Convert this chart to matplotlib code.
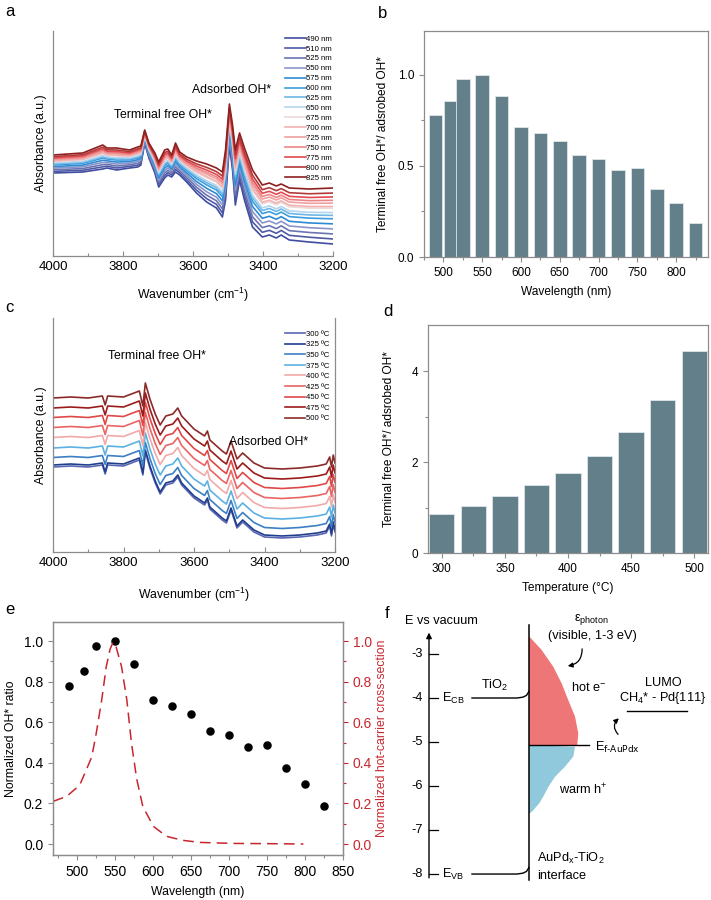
import numpy as np
import matplotlib.pyplot as plt
from matplotlib.patches import Polygon

plt.rcParams['font.family'] = ['Liberation Sans', 'DejaVu Sans']
plt.rcParams['mathtext.default'] = 'regular'

SPINE = '#8c8c8c'
BAR = '#627f8a'
RED = '#c8262e'

# ---- a: DRIFTS under different excitation wavelengths (lowest / highest trace)
wn_a = [4000, 3915, 3858, 3846, 3818, 3800, 3781, 3758, 3749, 3738, 3726, 3709, 3698,
        3681, 3672, 3661, 3650, 3638, 3618, 3590, 3561, 3533, 3516, 3507, 3496, 3487,
        3479, 3467, 3453, 3430, 3402, 3382, 3362, 3348, 3325, 3268, 3200]
abs_a_low = [0.83, 0.84, 0.87, 0.88, 0.86, 0.87, 0.88, 0.89, 0.91, 1.13, 0.98, 0.83, 0.69,
             0.78, 0.81, 0.79, 0.84, 0.81, 0.74, 0.63, 0.54, 0.48, 0.39, 0.56, 1.11, 0.86,
             0.51, 0.76, 0.56, 0.29, 0.19, 0.21, 0.18, 0.21, 0.16, 0.14, 0.12]
abs_a_high = [1.01, 1.03, 1.11, 1.08, 1.08, 1.07, 1.06, 1.09, 1.10, 1.26, 1.13, 1.03, 0.94,
              1.06, 1.07, 1.01, 1.13, 1.04, 0.99, 0.95, 0.92, 0.88, 0.84, 1.06, 1.52, 1.31,
              1.06, 1.23, 1.08, 0.86, 0.71, 0.73, 0.70, 0.72, 0.68, 0.67, 0.68]
labels_a = ['490 nm', '510 nm', '525 nm', '550 nm', '575 nm', '600 nm', '625 nm', '650 nm',
            '675 nm', '700 nm', '725 nm', '750 nm', '775 nm', '800 nm', '825 nm']
level_a = [0, 0.09, 0.18, 0.27, 0.36, 0.45, 0.51, 0.56, 0.64, 0.67, 0.73, 0.78, 0.84, 0.91, 1.0]
colors_a = ['#3f4c9f', '#4f5aa6', '#6a74b3', '#8c95c8', '#2e8ad3', '#3d9ddd', '#6db6e6',
            '#b3d5ee', '#ecd8d8', '#f3b3b3', '#f0a0a0', '#ec8686', '#e04a50', '#b33a3a', '#8e2020']

# ---- b / e: ratio vs wavelength
wavelength = [490, 510, 525, 550, 575, 600, 625, 650, 675, 700, 725, 750, 775, 800, 825]
ratio_wl = [0.777, 0.855, 0.976, 1.0, 0.886, 0.711, 0.678, 0.639, 0.557, 0.537, 0.476,
            0.489, 0.375, 0.297, 0.187]

# ---- c: DRIFTS at different temperatures (lowest trace + stacking offset)
wn_c = [4000, 3950, 3900, 3860, 3852, 3845, 3800, 3770, 3755, 3745, 3738, 3725, 3710,
        3696, 3680, 3660, 3646, 3635, 3600, 3570, 3562, 3555, 3520, 3508, 3495, 3478,
        3462, 3430, 3400, 3350, 3300, 3250, 3225, 3215, 3210, 3205, 3200]
abs_c = [0.85, 0.86, 0.85, 0.87, 0.78, 0.87, 0.86, 0.90, 0.92, 0.77, 1.00, 0.84, 0.69,
         0.58, 0.67, 0.69, 0.75, 0.67, 0.54, 0.47, 0.52, 0.43, 0.32, 0.29, 0.42, 0.24,
         0.30, 0.20, 0.15, 0.14, 0.15, 0.17, 0.19, 0.26, 0.16, 0.28, 0.20]
labels_c = ['300 ºC', '325 ºC', '350 ºC', '375 ºC', '400 ºC', '425 ºC', '450 ºC', '475 ºC', '500 ºC']
offset_c = [0, 0.02, 0.095, 0.19, 0.295, 0.395, 0.495, 0.59, 0.69]
colors_c = ['#5a67b5', '#213e8c', '#3b80c4', '#5cb0e2', '#f2a9a9', '#ea6464', '#e04848',
            '#9b1b1b', '#8c2a2a']

# ---- d: ratio vs temperature
temperature = [300, 325, 350, 375, 400, 425, 450, 475, 500]
ratio_t = [0.86, 1.03, 1.25, 1.50, 1.77, 2.13, 2.67, 3.36, 4.45]

# ---- e: hot-carrier cross-section
wl_hc = [469, 487, 504, 511, 520, 526, 533, 539, 544, 548, 552, 559, 566, 572, 579, 587,
         601, 618, 640, 662, 706, 749, 798]
hc = [0.21, 0.235, 0.29, 0.35, 0.43, 0.55, 0.71, 0.875, 0.96, 0.995, 0.97, 0.875, 0.71,
      0.50, 0.32, 0.185, 0.087, 0.038, 0.018, 0.008, 0.003, 0.002, 0.0]

W, H = 711, 900
fig = plt.figure(figsize=(7.11, 9.0), dpi=100)


def box(l, t, r, b):
    return [l / W, 1 - b / H, (r - l) / W, (b - t) / H]


def style(ax, sides=('left', 'bottom')):
    for s in ax.spines:
        ax.spines[s].set_visible(s in sides)
        ax.spines[s].set_color(SPINE)
        ax.spines[s].set_linewidth(0.9)
    ax.tick_params(which='both', color=SPINE, width=0.8)
    ax.tick_params(which='major', length=3.5)
    ax.tick_params(which='minor', length=2)


# ---------------- a
ax = fig.add_axes(box(53, 31, 333, 256))
lo = np.array(abs_a_low)
hi = np.array(abs_a_high)
for lab, k, c in zip(labels_a, level_a, colors_a):
    ax.plot(wn_a, lo + k * (hi - lo), color=c, lw=1.2, label=lab)
ax.set_xlim(4000, 3200)
ax.set_ylim(0, 2.25)
ax.set_yticks([])
ax.set_xticks([4000, 3800, 3600, 3400, 3200])
ax.set_xticks(np.arange(3200, 4001, 100), minor=True)
style(ax)
ax.tick_params(axis='x', labelsize=9.5, direction='in')
ax.tick_params(axis='x', which='minor', direction='in')
ax.set_xlabel('Wavenumber (cm$^{-1}$)', fontsize=8.8, labelpad=9)
ax.set_ylabel('Absorbance (a.u.)', fontsize=8.8, labelpad=4)
ax.text(3687, 1.41, 'Terminal free OH*', fontsize=8.8, ha='center', va='center')
ax.text(3490, 1.66, 'Adsorbed OH*', fontsize=8.8, ha='center', va='center')
ax.legend(loc='upper right', bbox_to_anchor=(1.0, 0.985), frameon=False, fontsize=5.6,
          handlelength=2.6, handletextpad=0.1, labelspacing=0.32, borderpad=0.1,
          borderaxespad=0)
fig.text(5 / W, 1 - 12 / H, 'a', fontsize=12, va='center')

# ---------------- b
ax = fig.add_axes(box(424, 31, 708, 257))
ax.bar(wavelength, ratio_wl, width=17.5, color=BAR, edgecolor='#dfe6e8', linewidth=0.6)
ax.set_xlim(477, 841)
ax.set_ylim(0, 1.24)
ax.set_xticks([500, 550, 600, 650, 700, 750, 800])
ax.set_xticks(np.arange(475, 841, 25), minor=True)
ax.set_yticks([0, 0.5, 1.0])
ax.set_yticklabels(['0.0', '0.5', '1.0'])
ax.set_yticks([0.25, 0.75], minor=True)
style(ax, ('left', 'bottom', 'top', 'right'))
ax.tick_params(labelsize=8.5)
ax.set_xlabel('Wavelength (nm)', fontsize=8.6, labelpad=5)
ax.set_ylabel('Terminal free OH*/ adsrobed OH*', fontsize=8.6, labelpad=6)
fig.text(378 / W, 1 - 13 / H, 'b', fontsize=12, va='center')

# ---------------- c
ax = fig.add_axes(box(53, 318, 335, 552))
base = np.array(abs_c)
for lab, off, c in zip(labels_c, offset_c, colors_c):
    ax.plot(wn_c, base + off, color=c, lw=1.2, label=lab)
ax.set_xlim(4000, 3200)
ax.set_ylim(0, 2.34)
ax.set_yticks([])
ax.set_xticks([4000, 3800, 3600, 3400, 3200])
ax.set_xticks(np.arange(3200, 4001, 100), minor=True)
style(ax, ('left', 'bottom', 'right'))
ax.tick_params(axis='x', labelsize=9.5, direction='in')
ax.tick_params(axis='x', which='minor', direction='in')
ax.set_xlabel('Wavenumber (cm$^{-1}$)', fontsize=8.8, labelpad=12)
ax.set_ylabel('Absorbance (a.u.)', fontsize=8.8, labelpad=4)
ax.text(3705, 1.96, 'Terminal free OH*', fontsize=8.8, ha='center', va='center')
ax.text(3389, 1.10, 'Adsorbed OH*', fontsize=8.8, ha='center', va='center')
ax.legend(loc='upper right', bbox_to_anchor=(0.985, 0.95), frameon=False, fontsize=5.6,
          handlelength=2.6, handletextpad=0.2, labelspacing=0.4, borderpad=0.1,
          borderaxespad=0)
fig.text(5 / W, 1 - 308 / H, 'c', fontsize=12, va='center')

# ---------------- d
ax = fig.add_axes(box(428, 325, 708, 553))
ax.bar(temperature, ratio_t, width=20, color=BAR, edgecolor='#dfe6e8', linewidth=0.6)
ax.set_xlim(289, 511)
ax.set_ylim(0, 5.02)
ax.set_xticks([300, 350, 400, 450, 500])
ax.set_xticks(np.arange(300, 501, 25), minor=True)
ax.set_yticks([0, 2, 4])
ax.set_yticks([1, 3], minor=True)
style(ax, ('left', 'bottom', 'top', 'right'))
ax.tick_params(labelsize=8.5)
ax.set_xlabel('Temperature (°C)', fontsize=8.6, labelpad=5)
ax.set_ylabel('Terminal free OH*/ adsrobed OH*', fontsize=8.6, labelpad=12)
fig.text(383 / W, 1 - 311 / H, 'd', fontsize=12, va='center')

# ---------------- e
ax = fig.add_axes(box(53, 622, 343, 855))
ax.scatter(wavelength, ratio_wl, s=26, color='black', zorder=3)
ax.set_xlim(469, 850)
ax.set_ylim(-0.054, 1.094)
ax.set_xticks(np.arange(500, 851, 50))
ax.set_xticks(np.arange(475, 851, 25), minor=True)
ax.set_yticks(np.arange(0, 1.01, 0.2))
ax.set_yticklabels(['0.0', '0.2', '0.4', '0.6', '0.8', '1.0'])
ax.set_yticks(np.arange(0.1, 1.0, 0.2), minor=True)
style(ax, ('left', 'bottom', 'top', 'right'))
ax.tick_params(labelsize=10)
ax.set_xlabel('Wavelength (nm)', fontsize=8.8, labelpad=5)
ax.set_ylabel('Normalized OH* ratio', fontsize=8.8, labelpad=5)
ax2 = ax.twinx()
ax2.plot(wl_hc, hc, color=RED, lw=1.1, dashes=(7, 4))
ax2.set_ylim(-0.054, 1.094)
ax2.set_yticks(np.arange(0, 1.01, 0.2))
ax2.set_yticklabels(['0.0', '0.2', '0.4', '0.6', '0.8', '1.0'])
ax2.set_yticks(np.arange(0.1, 1.0, 0.2), minor=True)
style(ax2, ('left', 'bottom', 'top', 'right'))
ax2.tick_params(axis='y', which='both', colors=RED, labelsize=10)
ax2.spines['right'].set_color(SPINE)
ax2.set_ylabel('Normalized hot-carrier cross-section', color=RED, fontsize=8.8, labelpad=3)
fig.text(5 / W, 1 - 610 / H, 'e', fontsize=12, va='center')

# ---------------- f: energy diagram
levels = [-3, -4, -5, -6, -7, -8]
e_cb, e_vb, e_fermi, e_lumo = -4.0, -8.0, -5.07, -4.30
hot_e_E = [-2.62, -2.91, -3.29, -3.67, -4.05, -4.42, -4.80, e_fermi]
hot_e_x = [150, 161.7, 173.3, 181.7, 188.3, 195, 198.3, 197.3]
warm_h_E = [-5.11, -5.33, -5.56, -5.79, -6.02, -6.24, -6.39, -6.55, -6.62]
warm_h_x = [195, 193.3, 185, 175, 168.3, 163.3, 159.3, 153.3, 150]

af = fig.add_axes([380 / W, 0, 331 / W, 290 / H])
af.set_xlim(0, 331)
af.set_ylim(-8.59, -2.0)
af.axis('off')
fs = 9.2

af.annotate('', xy=(49, -2.45), xytext=(49, -8.15),
            arrowprops=dict(arrowstyle='-|>', color='black', lw=1.0, mutation_scale=8))
for e in levels:
    af.plot([49, 58], [e, e], color='black', lw=0.9)
    af.text(43, e, str(e), ha='right', va='center', fontsize=fs)
af.text(25, -2.25, 'E vs vacuum', fontsize=fs, va='center')

af.add_patch(Polygon(list(zip([149] + hot_e_x + [149], [hot_e_E[0]] + hot_e_E + [e_fermi])),
                     closed=True, facecolor='#ef7676', edgecolor='none'))
af.add_patch(Polygon(list(zip([149] + warm_h_x + [149], [e_fermi] + warm_h_E + [warm_h_E[-1]])),
                     closed=True, facecolor='#90c9dc', edgecolor='none'))

af.plot([149, 149], [-2.35, -8.14], color='black', lw=1.1)
for e in (e_cb, e_vb):
    af.plot([92, 137, 143, 146.5, 149], [e, e, e + 0.02, e + 0.06, e + 0.15], color='black', lw=1.0)
af.text(62, e_cb, 'E$_{CB}$', fontsize=fs, va='center')
af.text(62, e_vb, 'E$_{VB}$', fontsize=fs, va='center')
af.text(115, -3.72, 'TiO$_2$', fontsize=fs, ha='center', va='center')

af.plot([149, 209], [e_fermi, e_fermi], color='black', lw=1.0)
af.text(215, -5.12, 'E$_{\\text{f-AuPdx}}$', fontsize=fs, va='center')
af.text(191, -3.76, 'hot e$^{-}$', fontsize=fs, va='center')
af.text(179, -6.08, 'warm h$^{+}$', fontsize=fs, va='center')
af.text(211, -2.22, 'ε$_{photon}$', fontsize=fs, ha='center', va='center')
af.text(212, -2.59, '(visible, 1-3 eV)', fontsize=fs, ha='center', va='center')
af.annotate('', xy=(185, -3.28), xytext=(202, -2.82),
            arrowprops=dict(arrowstyle='-|>', color='black', lw=0.9, mutation_scale=7,
                            connectionstyle='arc3,rad=-0.5'))

af.text(283, -3.66, 'LUMO', fontsize=fs, ha='center', va='center')
af.text(283, -4.0, 'CH$_4$* - Pd{111}', fontsize=fs, ha='center', va='center')
af.plot([247, 307], [e_lumo, e_lumo], color='black', lw=1.0)
af.annotate('', xy=(241, -4.42), xytext=(240, -4.87),
            arrowprops=dict(arrowstyle='-|>', color='black', lw=0.9, mutation_scale=7,
                            connectionstyle='arc3,rad=-0.6'))
af.text(157, -7.64, 'AuPd$_x$-TiO$_2$', fontsize=fs, va='center')
af.text(157, -8.05, 'interface', fontsize=fs, va='center')
fig.text(385 / W, 1 - 613 / H, 'f', fontsize=12, va='center')

fig.savefig('out.png', dpi=100)
